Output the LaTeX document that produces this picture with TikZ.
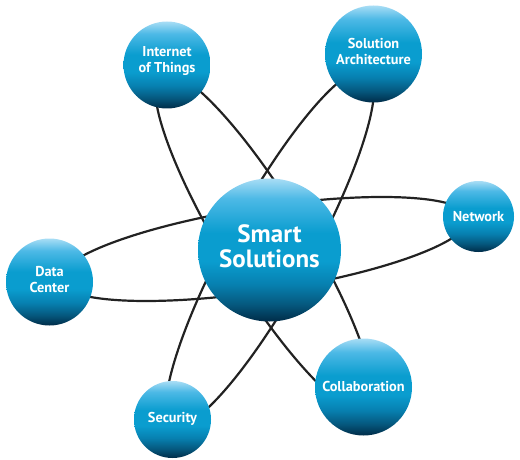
\documentclass[tikz,border=0pt]{standalone}
\usepackage{fontspec}
\setmainfont{PT Sans}
\usetikzlibrary{backgrounds}
\definecolor{blight}{HTML}{A8DDF5}
\definecolor{blight2}{HTML}{4DB9E6}
\definecolor{bmid}{HTML}{0A9DCF}
\definecolor{bmid2}{HTML}{0780B0}
\definecolor{bdark2}{HTML}{05587E}
\definecolor{bdark}{HTML}{002C48}
\definecolor{orbitc}{HTML}{222222}
\pgfdeclareverticalshading{ballshade}{100bp}{color(0bp)=(bdark); color(25bp)=(bdark); color(31bp)=(bdark2); color(38bp)=(bmid2); color(46bp)=(bmid); color(56bp)=(bmid); color(68bp)=(blight2); color(75bp)=(blight); color(100bp)=(blight)}
\tikzset{
  ball/.style={circle, inner sep=0pt, shading=ballshade, draw=none},
  balltext/.style={text=white, align=center, font=\bfseries\fontsize{14.3}{16}\selectfont, inner sep=0pt},
  bigtext/.style={balltext, font=\bfseries\fontsize{25}{25}\selectfont},
  orbit/.style={draw=orbitc, line width=2.2pt}
}
\begin{document}
\begin{tikzpicture}[x=1pt, y=-1pt]
\useasboundingbox (0,0) rectangle (520,460);
\node[ball, minimum size=143pt, label={[bigtext, yshift=4pt]center:Smart\\Solutions}] (center) at (269.5,250) {};
\node[ball, minimum size=87pt, label={[balltext, yshift=4pt]center:Internet\\of Things}] (iot) at (167,65) {};
\node[ball, minimum size=97pt, label={[balltext, yshift=3pt]center:Solution\\Architecture}] (sa) at (373.5,54) {};
\node[ball, minimum size=71pt, label={[balltext]center:Network}] (net) at (478.5,216.5) {};
\node[ball, minimum size=87pt, label={[balltext, yshift=2pt]center:Data\\Center}] (dc) at (49.5,282) {};
\node[ball, minimum size=97pt, label={[balltext, yshift=1pt]center:Collaboration}] (col) at (363.5,387) {};
\node[ball, minimum size=77pt, label={[balltext, yshift=1pt]center:Security}] (sec) at (172.5,419.5) {};
\begin{pgfonlayer}{background}
\coordinate (o1) at (264,249);
\coordinate (o2) at (264,242);
\coordinate (o3) at (270,248);
\draw[orbit, rotate around={8.7:(o1)}] (o1) ellipse [x radius=207pt, y radius=42pt];
\draw[orbit, rotate around={-58.6:(o2)}] (o2) ellipse [x radius=197pt, y radius=42pt];
\draw[orbit, rotate around={61.2:(o3)}] (o3) ellipse [x radius=202pt, y radius=42pt];
\end{pgfonlayer}
\end{tikzpicture}
\end{document}
